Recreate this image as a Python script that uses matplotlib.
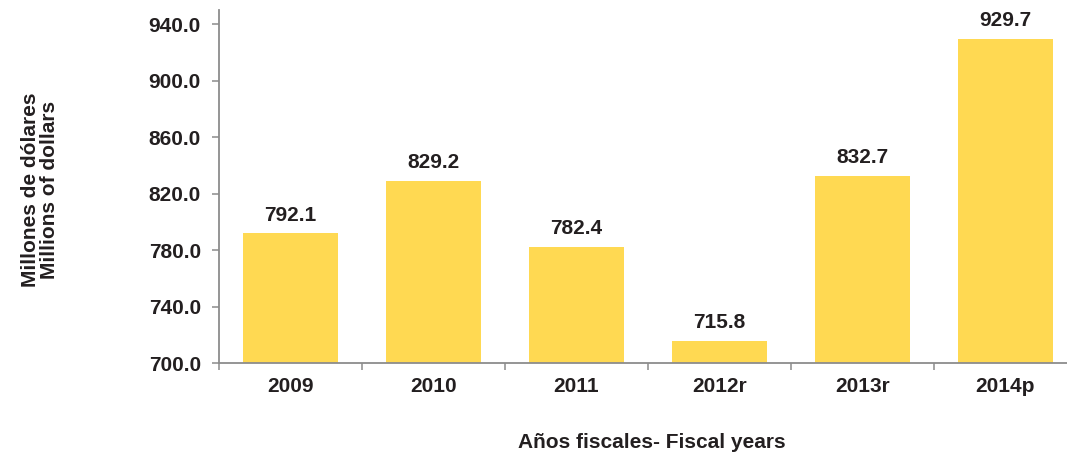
import matplotlib.pyplot as plt
import numpy as np

# Datos
years = ['2009', '2010', '2011', '2012r', '2013r', '2014p']
values = [792.1, 829.2, 782.4, 715.8, 832.7, 929.7]
yticks = [700, 740, 780, 820, 860, 900, 940]

plt.rcParams['font.family'] = ['Liberation Sans', 'DejaVu Sans']
plt.rcParams['font.weight'] = 'bold'

fig = plt.figure(figsize=(10.67, 4.58), dpi=100)
ax = fig.add_axes([219 / 1067, 1 - 363 / 458, (1077 - 219) / 1067, (363 - 10) / 458])

x = np.arange(len(years))
ax.bar(x, values, width=0.66, color='#FFD952', bottom=0)

ax.set_ylim(700, 950)
ax.set_xlim(-0.5, len(years) - 0.5)
ax.set_yticks(yticks)
ax.set_yticklabels([f'{v:.1f}' for v in yticks], fontsize=15, fontweight='bold', color='#231f20')
ax.set_xticks(x)
ax.set_xticklabels(years, fontsize=15, fontweight='bold', color='#231f20')
ax.set_xticks(np.arange(-0.5, len(years)), minor=True)

ax.tick_params(axis='x', which='major', length=0, pad=10)
ax.tick_params(axis='x', which='minor', length=5, width=1.1, color='#8c8c8c', direction='out')
ax.tick_params(axis='y', length=5, width=1.1, color='#8c8c8c', pad=8)

for s in ['top', 'right']:
    ax.spines[s].set_visible(False)
for s in ['left', 'bottom']:
    ax.spines[s].set_color('#8c8c8c')
    ax.spines[s].set_linewidth(1.3)

# Etiquetas de valores
for xi, v in zip(x, values):
    ax.annotate(f'{v:.1f}', (xi, v), xytext=(0, 6), textcoords='offset points',
                ha='center', va='bottom', fontsize=15, fontweight='bold', color='#231f20')

fig.text(40 / 1067, 1 - 190 / 458, 'Millones de dólares\nMillions of dollars', rotation=90,
         ha='center', va='center', multialignment='center', fontsize=15, fontweight='bold',
         color='#231f20', linespacing=1.0)
fig.text(652 / 1067, 1 - 443 / 458, 'Años fiscales- Fiscal years', ha='center', va='center',
         fontsize=15, fontweight='bold', color='#231f20')

fig.savefig('out.png', dpi=100)
